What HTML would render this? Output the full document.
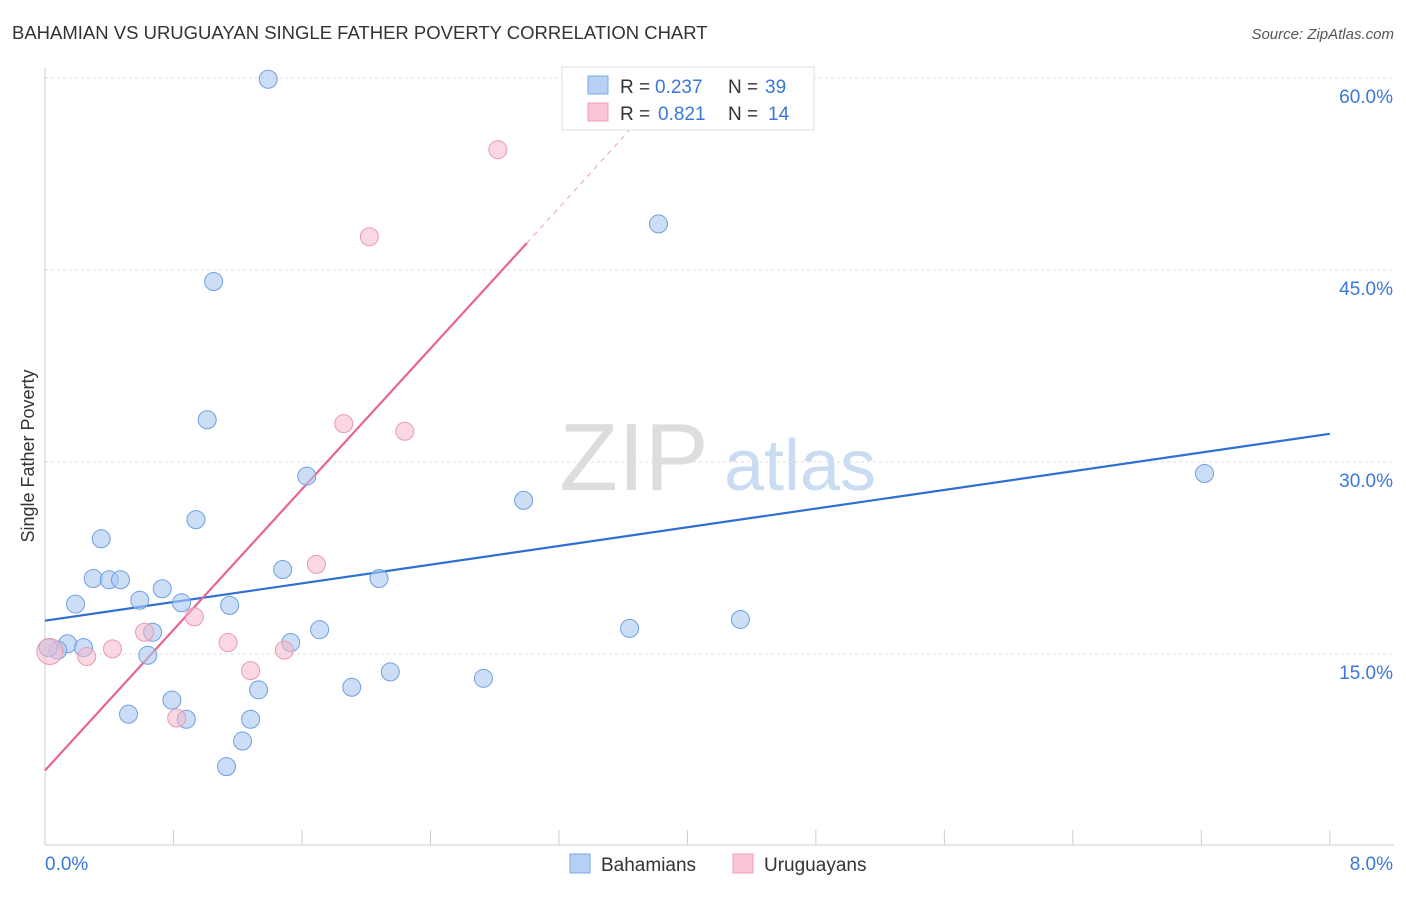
<!DOCTYPE html>
<html><head><meta charset="utf-8"><style>
body{margin:0;background:#fff;font-family:"Liberation Sans",sans-serif;}
svg text{font-family:"Liberation Sans",sans-serif;}
</style></head><body>
<svg id="chart" width="1406" height="892" xmlns="http://www.w3.org/2000/svg">
<text x="12" y="39" font-size="18.5" fill="#333">BAHAMIAN VS URUGUAYAN SINGLE FATHER POVERTY CORRELATION CHART</text>
<text x="1394" y="39" font-size="15" fill="#555" text-anchor="end" font-style="italic">Source: ZipAtlas.com</text>
<g>
<text x="634" y="490" font-size="96" fill="#ddd" text-anchor="middle" font-family="Liberation Serif">ZIP</text>
<text x="800" y="490" font-size="72" fill="#c9dcf2" text-anchor="middle">atlas</text>
</g>
<g id="grid"></g>
<g id="axes"></g>
<text transform="translate(34,456) rotate(-90)" font-size="18" fill="#333" text-anchor="middle">Single Father Poverty</text>
<g id="lines"></g>
<g id="points"></g>
<g>
<rect x="562" y="67" width="252" height="63" fill="#fff" stroke="#ddd"/>
<rect x="588" y="76" width="20" height="18" fill="#b7d1f4" stroke="#7ea9e6"/>
<text x="620" y="93" font-size="19" fill="#333">R =</text>
<text x="655" y="93" font-size="19" fill="#3a78d8">0.237</text>
<text x="728" y="93" font-size="19" fill="#333">N =</text>
<text x="765" y="93" font-size="19" fill="#3a78d8">39</text>
<rect x="588" y="103" width="20" height="18" fill="#f9c6d6" stroke="#eba0b8"/>
<text x="620" y="120" font-size="19" fill="#333">R =</text>
<text x="658" y="120" font-size="19" fill="#3a78d8">0.821</text>
<text x="728" y="120" font-size="19" fill="#333">N =</text>
<text x="768" y="120" font-size="19" fill="#3a78d8">14</text>
</g>
<g>
<rect x="570" y="854" width="20" height="19" fill="#b7d1f4" stroke="#7ea9e6"/>
<text x="601" y="871" font-size="19" fill="#333">Bahamians</text>
<rect x="733" y="854" width="20" height="19" fill="#f9c6d6" stroke="#eba0b8"/>
<text x="764" y="871" font-size="19" fill="#333">Uruguayans</text>
</g>
</svg>
<script>
const blueX=[1.39,1.05,3.82,1.01,1.63,2.98,7.22,0.94,0.35,1.48,2.08,0.30,0.40,0.47,0.73,0.59,0.85,0.19,1.15,0.67,1.71,3.64,4.33,1.53,0.14,0.24,0.08,0.02,0.64,2.15,2.73,1.91,1.33,0.79,0.52,0.88,1.28,1.23,1.13];
const blueY=[59.9,44.1,48.6,33.3,28.9,27.0,29.1,25.5,24.0,21.6,20.9,20.9,20.8,20.8,20.1,19.2,19.0,18.9,18.8,16.7,16.9,17.0,17.7,15.9,15.8,15.5,15.3,15.5,14.9,13.6,13.1,12.4,12.2,11.4,10.3,9.9,9.9,8.2,6.2];
const pinkX=[2.82,2.02,1.86,2.24,1.69,0.93,0.62,1.14,0.42,1.49,0.26,1.28,0.82,0.03];
const pinkY=[54.4,47.6,33.0,32.4,22.0,17.9,16.7,15.9,15.4,15.3,14.8,13.7,10.0,15.2];
const blueTrendX=[0,8];const blueTrendY=[17.6,32.2];
const pinkTrendX=[0,3.0,3.71];const pinkTrendY=[5.9,47.1,56.9];
const yTicks=[15,30,45,60];const yTickLabels=["15.0%","30.0%","45.0%","60.0%"];
const xTickLabels=["0.0%","8.0%"];
const NS="http://www.w3.org/2000/svg";
const X=v=>45+v*160.6, Y=v=>846-v*12.8;
function mk(t,a,p){const e=document.createElementNS(NS,t);for(const k in a)e.setAttribute(k,a[k]);p.appendChild(e);return e;}
const grid=document.getElementById('grid'),axes=document.getElementById('axes');
yTicks.forEach((t,i)=>{
 const l=mk('line',{x1:45,x2:1394,y1:Y(t),y2:Y(t),stroke:'#ddd','stroke-dasharray':'3,3'},grid);
 
 
 const tx=mk('text',{x:1393,y:Y(t)+25,'font-size':19,fill:'#3a78d8','text-anchor':'end'},axes);
 tx.textContent=yTickLabels[i];
 
 
});
mk('line',{x1:45,x2:45,y1:68,y2:845,stroke:'#ccc'},axes);
mk('line',{x1:45,x2:1394,y1:845,y2:845,stroke:'#ccc'},axes);
for(let i=0;i<=10;i++){const t=mk('line',{x1:X(i*0.8),x2:X(i*0.8),y1:830,y2:845,stroke:'#ccc'},axes);
 
 }
[[45,'start'],[1393,'end']].forEach((p,i)=>{const t=mk('text',{x:p[0],y:870,'font-size':19,fill:'#3a78d8','text-anchor':p[1]},axes);t.textContent=xTickLabels[i];
 
 });
const pts=document.getElementById('points');
blueX.forEach((v,i)=>{const c=mk('circle',{cx:X(v),cy:Y(blueY[i]),r:9,fill:'rgba(168,200,240,0.6)',stroke:'#6f9fe0','stroke-width':1},pts);
 
 });
pinkX.forEach((v,i)=>{const c=mk('circle',{cx:X(v),cy:Y(pinkY[i]),r:i==13?13:9,fill:'rgba(246,184,204,0.55)',stroke:'#e99ab3','stroke-width':1},pts);
 
 });
const ln=document.getElementById('lines');
const b=mk('line',{x1:X(blueTrendX[0]),y1:Y(blueTrendY[0]),x2:X(blueTrendX[1]),y2:Y(blueTrendY[1]),stroke:'#2f6fd4','stroke-width':2.2},ln);


const p1=mk('line',{x1:X(pinkTrendX[0]),y1:Y(pinkTrendY[0]),x2:X(pinkTrendX[1]),y2:Y(pinkTrendY[1]),stroke:'#e8648f','stroke-width':2.2},ln);


const p2=mk('line',{x1:X(pinkTrendX[1]),y1:Y(pinkTrendY[1]),x2:X(pinkTrendX[2]),y2:Y(pinkTrendY[2]),stroke:'#eaa0b8','stroke-width':1,'stroke-dasharray':'5,5'},ln);


</script>
</body></html>
